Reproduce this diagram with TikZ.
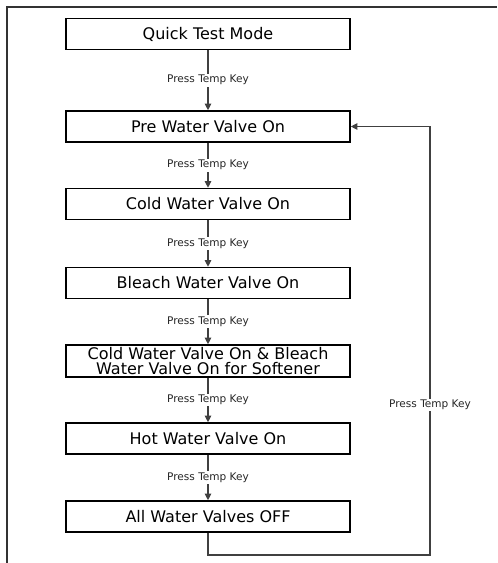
\documentclass[tikz,border=0pt]{standalone}
\usepackage{fontspec}
\setmainfont{DejaVu Sans}
\usetikzlibrary{arrows.meta}
\begin{document}
\begin{tikzpicture}[x=0.75pt,y=-0.75pt,
  stepbox/.style={draw=black,line width=1.2pt,minimum width=284*0.75pt,minimum height=31*0.75pt,inner sep=0pt,font=\fontsize{12pt}{11pt}\selectfont,align=center},
  conn/.style={draw=black!75,line width=0.8pt,-{Triangle[length=5pt,width=5pt]}},
  lbl/.style={fill=white,inner sep=1pt,font=\fontsize{7.9pt}{9pt}\selectfont,text=black!85}]
\useasboundingbox (0,0) rectangle (497,563);
\draw[black!80,line width=0.8pt] (7,563) -- (7,7) -- (497,7);
\node[stepbox] (a) at (208,34) {Quick Test Mode};
\node[stepbox] (b) at (208,126.5) {Pre Water Valve On};
\node[stepbox] (c) at (208,204) {Cold Water Valve On};
\node[stepbox] (d) at (208,283) {Bleach Water Valve On};
\node[stepbox,minimum height=32*0.75pt] (e) at (208,361) {Cold Water Valve On \& Bleach\\Water Valve On for Softener};
\node[stepbox] (f) at (208,438.5) {Hot Water Valve On};
\node[stepbox] (g) at (208,516.5) {All Water Valves OFF};
\foreach \u/\v in {a/b,b/c,c/d,d/e,e/f,f/g}{
  \draw[conn] (\u) -- node[lbl] {Press Temp Key} (\v);
}
\coordinate (p1) at (208,555);
\coordinate (p2) at (430,555);
\coordinate (p3) at (430,126.5);
\draw[conn] (g.south) -- (p1) -- (p2) -- node[lbl,pos=0.35] {Press Temp Key} (p3) -- (b.east);
\end{tikzpicture}
\end{document}
